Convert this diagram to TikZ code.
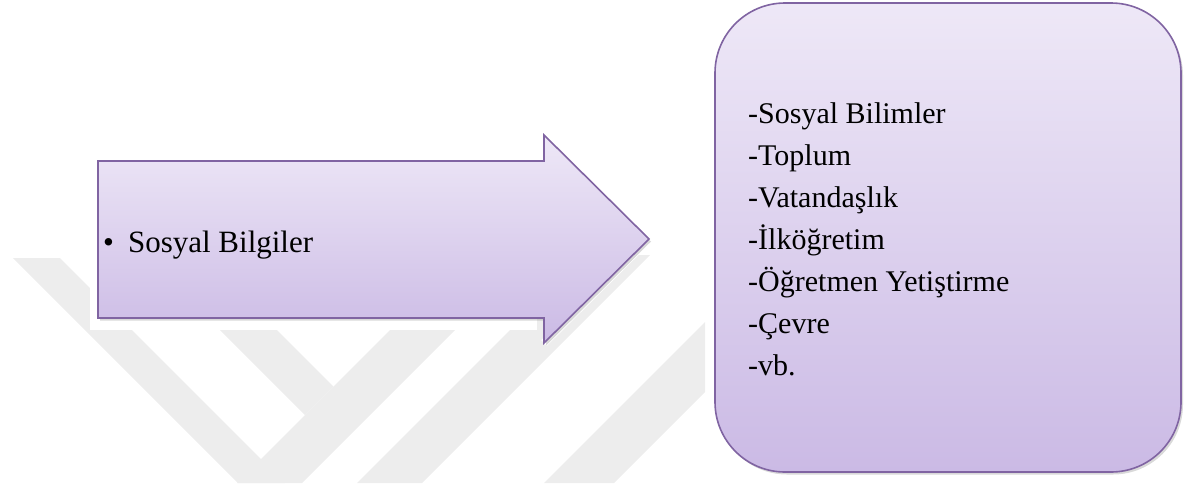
\documentclass[tikz,border=0pt]{standalone}
\usepackage{fontspec}
\setmainfont{Liberation Serif}
\usetikzlibrary{shadows}
\definecolor{lavtop}{RGB}{238,232,247}
\definecolor{lavbot}{RGB}{203,186,229}
\definecolor{lavline}{RGB}{128,100,162}
\definecolor{wmgray}{RGB}{237,237,237}
\tikzset{
  lavshape/.style={draw=lavline, line width=1.6pt, top color=lavtop, bottom color=lavbot,
    drop shadow={shadow xshift=2pt, shadow yshift=-2.5pt, opacity=.3}},
  wmband/.style={fill=wmgray, draw=none},
  itemtext/.style={anchor=base west, inner sep=0pt, font=\fontsize{30}{36}\selectfont},
}
\begin{document}
\begin{tikzpicture}[x=1pt,y=-1pt]
\useasboundingbox (0,0) rectangle (1185,483);
% watermark
\begin{scope}
  \clip (0,255) rectangle (705,483);
  \fill[wmband] (13,258) -- (60,258) -- (285,483) -- (238,483) -- cycle;
  \fill[wmband] (148,258) -- (205,258) -- (333.5,386.5) -- (305,415) -- cycle;
  \fill[wmband] (237,483) -- (302,483) -- (530,255) -- (465,255) -- cycle;
  \fill[wmband] (357,483) -- (422,483) -- (650,255) -- (585,255) -- cycle;
  \fill[wmband] (544,483) -- (614,483) -- (842,255) -- (772,255) -- cycle;
\end{scope}
\fill[white] (90,120) rectangle (537,330);
\draw[white, line width=8pt] (649,239) -- (544,343);
% arrow
\path[lavshape] (98,161) -- (544,161) -- (544,135) -- (649,239) -- (544,343)
  -- (544,318) -- (98,318) -- cycle;
\node[anchor=base west, inner sep=0pt, font=\fontsize{31}{37}\selectfont] (konu) at (103,252)
  {\textbullet\hspace{14pt}Sosyal Bilgiler};
% box
\path[lavshape, rounded corners=70pt] (715,3) rectangle (1181,472);
\foreach \txt [count=\i] in {-Sosyal Bilimler, -Toplum, -Vatandaşlık, -İlköğretim,
    -Öğretmen Yetiştirme, -Çevre, -vb.}
  \node[itemtext] (item\i) at (748,{123+42*(\i-1)}) {\txt};
\end{tikzpicture}
\end{document}
